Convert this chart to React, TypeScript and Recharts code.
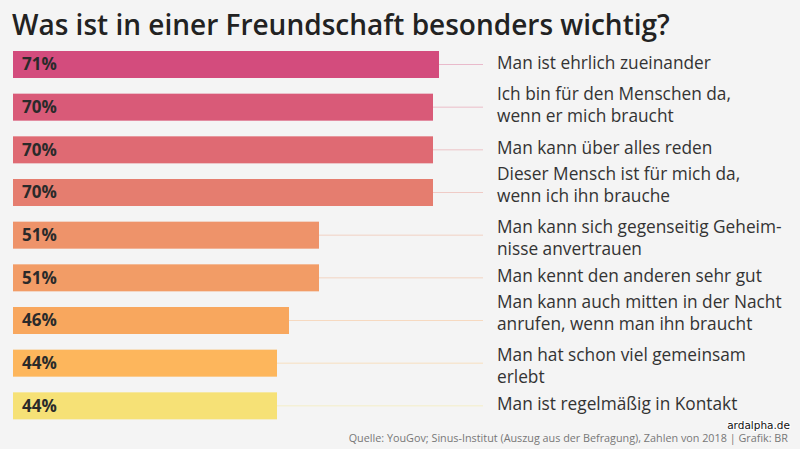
import React from "react";
import { BarChart, Bar, XAxis, YAxis, LabelList, Cell } from "recharts";

const categories = [
  "Man ist ehrlich zueinander",
  "Ich bin für den Menschen da,\nwenn er mich braucht",
  "Man kann über alles reden",
  "Dieser Mensch ist für mich da,\nwenn ich ihn brauche",
  "Man kann sich gegenseitig Geheim-\nnisse anvertrauen",
  "Man kennt den anderen sehr gut",
  "Man kann auch mitten in der Nacht\nanrufen, wenn man ihn braucht",
  "Man hat schon viel gemeinsam\nerlebt",
  "Man ist regelmäßig in Kontakt",
];
const values = [71, 70, 70, 70, 51, 51, 46, 44, 44];
const barColors = [
  "#d34c7d",
  "#d95a78",
  "#df6a73",
  "#e57d6f",
  "#ee936a",
  "#f29c66",
  "#f8a75e",
  "#fdb65c",
  "#f6e176",
];

const data = categories.map((name, i) => ({ name, value: values[i], color: barColors[i] }));

const FONT = "'Open Sans', 'Noto Sans', sans-serif";
const LABEL_X = 497;
const GUIDE_END = 483;

const isTwoLine = (i: number) => i >= 0 && i < categories.length && categories[i].includes("\n");

function GuideBar(props: any) {
  const { x, y, width, height, fill } = props;
  const cy = y + height / 2;
  return (
    <g>
      <line x1={x + width} x2={GUIDE_END} y1={cy} y2={cy} stroke={fill} strokeOpacity={0.35} strokeWidth={1} />
      <rect x={x} y={y} width={width} height={height} fill={fill} />
    </g>
  );
}

function PercentLabel(props: any) {
  const { x, y, height, value } = props;
  return (
    <text x={x + 9} y={y + height / 2} dy="0.34em" fontFamily={FONT} fontWeight={700} fontSize={17} fill="#2a2a2a">
      {value}%
    </text>
  );
}

function NameLabel(props: any) {
  const { y, height, value, index } = props;
  const lines = String(value).split("\n");
  const lh = 22;
  let shift = -1.5;
  if (lines.length > 1) {
    // two-line labels move apart when a neighbour also wraps
    shift = -2 + (isTwoLine(index - 1) ? 5 : 0) - (isTwoLine(index + 1) ? 5 : 0);
  }
  const cy = y + height / 2 + shift;
  const start = cy - ((lines.length - 1) * lh) / 2;
  return (
    <text fontFamily={FONT} fontSize={17.3} fill="#333">
      {lines.map((l, i) => (
        <tspan key={i} x={LABEL_X} y={start + i * lh} dy="0.34em">
          {l}
        </tspan>
      ))}
    </text>
  );
}

export default function App() {
  return (
    <div style={{ position: "absolute", left: 0, top: 0, width: 800, height: 449, background: "#f4f4f4" }}>
      <BarChart
        width={800}
        height={449}
        data={data}
        layout="vertical"
        margin={{ top: 43, right: 187, bottom: 22, left: 13 }}
      >
        <XAxis type="number" domain={[0, 100]} hide />
        <YAxis type="category" dataKey="name" hide />
        <Bar dataKey="value" barSize={27} isAnimationActive={false} shape={GuideBar}>
          {data.map((d, i) => (
            <Cell key={i} fill={d.color} />
          ))}
          <LabelList dataKey="value" content={PercentLabel} />
          <LabelList dataKey="name" content={NameLabel} />
        </Bar>
      </BarChart>
      <svg width={800} height={449} style={{ position: "absolute", left: 0, top: 0, pointerEvents: "none" }}>
        <text x={12} y={35} fontFamily={FONT} fontWeight={600} fontSize={28} fill="#222">
          Was ist in einer Freundschaft besonders wichtig?
        </text>
        <text x={788} y={442} textAnchor="end" fontFamily={FONT} fontSize={10.8} fill="#777">
          Quelle: YouGov; Sinus-Institut (Auszug aus der Befragung), Zahlen von 2018 | Grafik: BR
        </text>
        <text
          x={790}
          y={429}
          textAnchor="end"
          fontFamily="'DejaVu Sans', sans-serif"
          fontSize={10.5}
          fill="#111"
          stroke="#fff"
          strokeWidth={2}
          paintOrder="stroke"
        >
          ardalpha.de
        </text>
      </svg>
    </div>
  );
}
